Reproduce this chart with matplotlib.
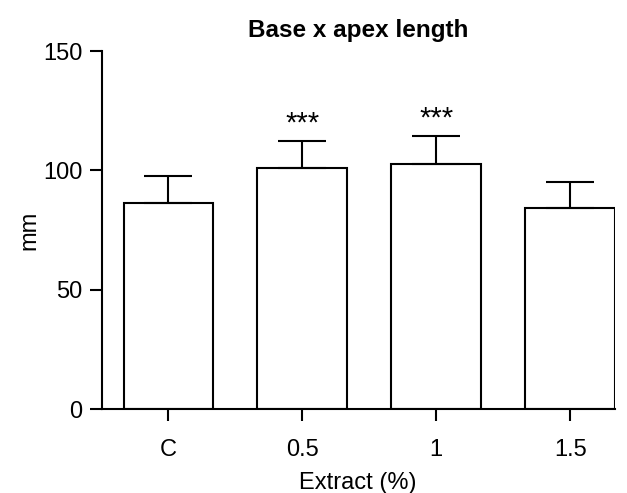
import matplotlib
matplotlib.use("Agg")
import matplotlib.pyplot as plt

categories = ["C", "0.5", "1", "1.5"]
means = [86.3, 101.0, 102.6, 84.2]
sems = [11.4, 11.4, 11.9, 10.8]
stars = ["", "***", "***", ""]
yticks = [0, 50, 100, 150]

plt.rcParams['font.family'] = ['Liberation Sans', 'DejaVu Sans']

W, H = 627, 493
fig = plt.figure(figsize=(W / 100, H / 100), dpi=100)
x0, x1 = 101.5, 615
y0, y1 = 409, 51
ax = fig.add_axes([x0 / W, (H - y0) / H, (x1 - x0) / W, (y0 - y1) / H])

xs = list(range(len(categories)))
lw = 1.5
ax.bar(xs, means, width=0.67, color="white", edgecolor="black", linewidth=lw, zorder=2)
ax.errorbar(xs, means, yerr=[[0] * len(sems), sems], fmt="none", ecolor="black",
            elinewidth=lw, capsize=17, capthick=lw, zorder=3)
for x, m, s, st in zip(xs, means, sems, stars):
    if st:
        ax.text(x, m + s + 1.5, st, ha="center", va="bottom", fontsize=21)

ax.set_xlim(-0.5, 3.335)
ax.set_ylim(0, 150)
ax.set_xticks(xs)
ax.set_xticklabels(categories)
ax.set_yticks(yticks)
ax.spines["top"].set_visible(False)
ax.spines["right"].set_visible(False)
for sp in ("left", "bottom"):
    ax.spines[sp].set_linewidth(lw)
ax.tick_params(axis="both", width=lw, length=8.5, labelsize=17, color="black")
ax.tick_params(axis="x", pad=13)
ax.tick_params(axis="y", pad=5)
ax.set_ylabel("mm", fontsize=17, labelpad=2)
ax.set_xlabel("Extract (%)", fontsize=17, labelpad=8)
ax.set_title("Base x apex length", fontsize=17.5, fontweight="bold", pad=10)

fig.savefig("out.png", dpi=100)
